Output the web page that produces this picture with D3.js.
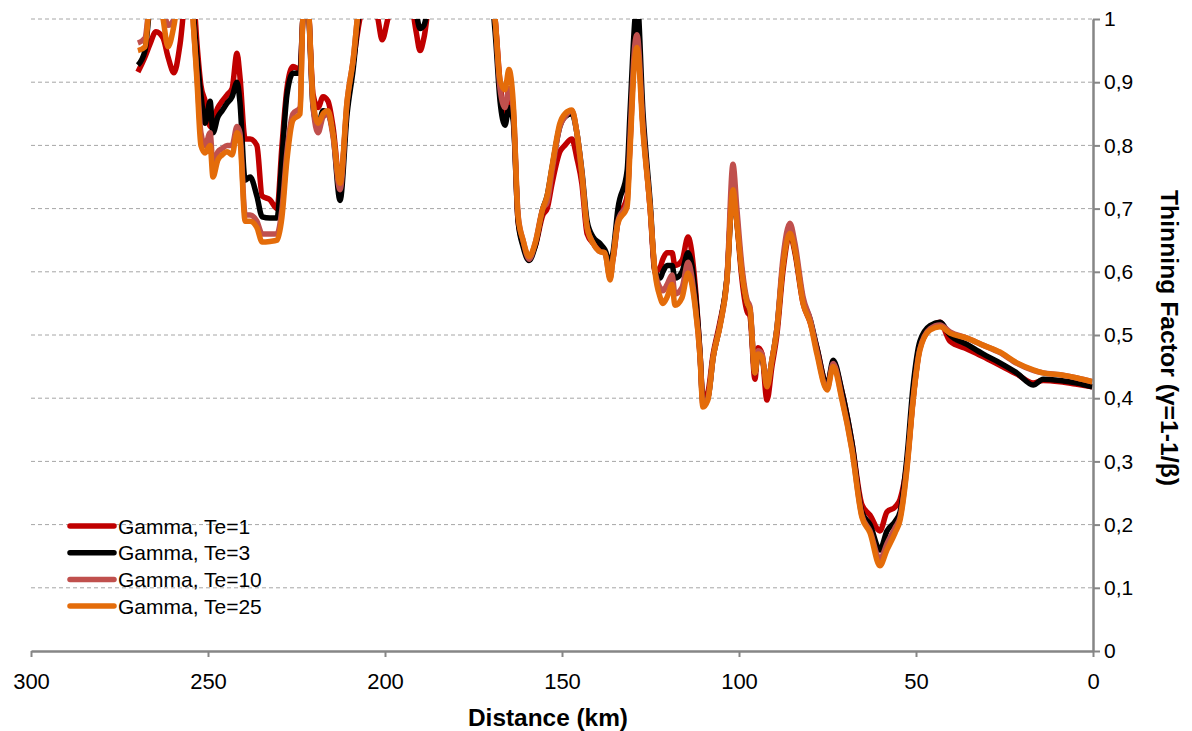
<!DOCTYPE html>
<html>
<head>
<meta charset="utf-8">
<script src="https://cdn.jsdelivr.net/npm/d3@7/dist/d3.min.js"></script>
<style>
  body { margin: 0; padding: 0; background: #fff; }
  svg { display: block; font-family: "Liberation Sans", Arial, sans-serif; }
</style>
</head>
<body>
<svg id="chart" width="1192" height="731"></svg>
<script>
// distance along profile (km)
var dist = [269.8,267.8,266.4,264.7,262.7,261.3,259.6,257.9,256.2,254.8,254.0,253.1,252.0,250.8,249.4,248.6,247.2,246.0,244.6,243.2,
  241.8,241.0,239.5,238.1,236.2,234.7,232.5,230.5,229.1,227.7,226.0,224.0,223.2,222.0,220.3,218.9,217.5,216.1,214.7,212.7,
  210.7,209.0,207.1,204.2,202.0,200.8,199.2,195.8,192.4,191.2,190.1,189.0,187.3,178.8,170.3,168.9,167.5,166.1,165.0,163.8,
  162.4,161.0,159.3,157.6,155.4,154.2,152.8,150.6,149.2,147.2,145.8,144.4,142.9,141.2,139.3,137.9,136.4,135.6,134.2,131.6,
  130.8,129.4,128.8,127.1,125.1,123.7,122.3,121.5,120.3,118.9,118.1,116.1,114.4,112.4,111.0,110.2,108.8,107.3,105.4,103.4,
  101.7,100.6,99.2,97.7,96.9,95.5,94.6,93.5,92.1,90.7,89.3,87.6,85.6,84.2,81.9,79.9,78.0,75.1,73.4,70.9,
  68.1,65.3,63.0,60.2,58.2,55.9,54.5,52.5,50.8,48.9,46.0,43.2,40.4,35.6,31.1,26.3,21.5,16.9,14.1,9.3,
  4.5,0.2];

var te1 = [0.916,0.94,0.96,0.98,0.97,0.94,0.915,0.96,1.04,1.05,1.03,0.96,0.895,0.87,0.83,0.84,0.86,0.87,0.88,0.89,
  0.946,0.91,0.81,0.81,0.80,0.72,0.714,0.70,0.80,0.89,0.925,0.92,1.0,1.04,0.88,0.86,0.877,0.87,0.83,0.74,
  0.86,0.93,1.0,1.04,1.0,0.967,1.0,1.06,1.02,0.98,0.95,0.97,1.03,1.08,1.05,1.0,0.90,0.85,0.88,0.85,
  0.68,0.645,0.624,0.64,0.69,0.70,0.74,0.79,0.80,0.81,0.78,0.74,0.66,0.645,0.64,0.63,0.61,0.62,0.68,0.72,
  0.80,0.96,0.975,0.83,0.70,0.60,0.607,0.62,0.63,0.63,0.61,0.618,0.655,0.58,0.47,0.40,0.41,0.47,0.52,0.59,
  0.74,0.68,0.59,0.537,0.53,0.43,0.48,0.47,0.397,0.45,0.50,0.60,0.66,0.63,0.55,0.52,0.48,0.42,0.455,0.41,
  0.33,0.232,0.215,0.19,0.22,0.228,0.24,0.30,0.40,0.48,0.51,0.52,0.49,0.478,0.466,0.452,0.438,0.424,0.428,0.426,
  0.422,0.418];

var te3 = [0.927,0.95,1.02,1.05,1.03,1.02,1.03,1.05,1.06,1.05,1.0,0.94,0.88,0.835,0.87,0.82,0.845,0.855,0.867,0.877,
  0.90,0.87,0.745,0.75,0.72,0.687,0.685,0.685,0.78,0.88,0.914,0.914,1.0,1.04,0.86,0.83,0.855,0.85,0.82,0.713,
  0.85,0.92,1.02,1.06,1.06,1.06,1.06,1.06,1.04,1.01,0.985,0.99,1.03,1.08,1.05,0.98,0.87,0.832,0.86,0.84,
  0.68,0.64,0.618,0.64,0.70,0.72,0.765,0.83,0.845,0.85,0.82,0.76,0.68,0.655,0.645,0.635,0.615,0.63,0.70,0.76,
  0.85,1.0,1.03,0.85,0.71,0.60,0.59,0.60,0.61,0.61,0.59,0.60,0.63,0.57,0.47,0.395,0.40,0.465,0.515,0.59,
  0.73,0.68,0.60,0.55,0.54,0.44,0.47,0.465,0.42,0.46,0.51,0.61,0.665,0.635,0.555,0.525,0.48,0.42,0.46,0.41,
  0.33,0.22,0.20,0.16,0.19,0.205,0.22,0.31,0.42,0.49,0.515,0.52,0.50,0.485,0.47,0.456,0.44,0.421,0.43,0.428,
  0.424,0.418];

var te10 = [0.962,0.97,1.03,1.05,1.02,0.99,1.0,1.05,1.06,1.04,0.98,0.91,0.82,0.80,0.82,0.77,0.79,0.795,0.80,0.80,
  0.83,0.82,0.69,0.69,0.68,0.66,0.66,0.66,0.70,0.79,0.85,0.86,1.0,1.04,0.86,0.82,0.845,0.85,0.815,0.73,
  0.87,0.935,1.03,1.06,1.06,1.06,1.06,1.06,1.06,1.06,1.06,1.06,1.06,1.08,1.05,1.0,0.89,0.86,0.89,0.86,
  0.69,0.65,0.62,0.645,0.70,0.71,0.76,0.83,0.845,0.855,0.82,0.756,0.67,0.645,0.632,0.63,0.59,0.62,0.68,0.71,
  0.81,0.96,0.975,0.83,0.70,0.60,0.575,0.57,0.58,0.595,0.565,0.575,0.615,0.55,0.465,0.39,0.40,0.465,0.515,0.59,
  0.77,0.70,0.61,0.555,0.545,0.44,0.475,0.47,0.42,0.46,0.51,0.62,0.677,0.645,0.56,0.525,0.475,0.415,0.455,0.40,
  0.32,0.215,0.19,0.145,0.17,0.195,0.212,0.295,0.40,0.478,0.51,0.516,0.505,0.495,0.484,0.472,0.455,0.444,0.44,0.437,
  0.432,0.426];

var te25 = [0.95,0.956,1.03,1.05,1.0,0.956,0.99,1.05,1.06,1.04,0.98,0.90,0.80,0.788,0.80,0.75,0.777,0.785,0.79,0.785,
  0.82,0.81,0.68,0.68,0.67,0.647,0.648,0.65,0.687,0.777,0.84,0.85,1.0,1.04,0.87,0.835,0.85,0.855,0.82,0.74,
  0.87,0.935,1.03,1.06,1.06,1.06,1.06,1.06,1.06,1.06,1.06,1.06,1.06,1.08,1.05,1.0,0.903,0.888,0.92,0.87,
  0.687,0.65,0.624,0.645,0.70,0.72,0.767,0.835,0.85,0.856,0.82,0.756,0.67,0.645,0.632,0.63,0.587,0.62,0.677,0.703,
  0.79,0.94,0.955,0.82,0.70,0.598,0.56,0.55,0.56,0.58,0.547,0.559,0.598,0.545,0.465,0.386,0.397,0.465,0.513,0.587,
  0.73,0.677,0.598,0.55,0.54,0.44,0.47,0.465,0.418,0.46,0.508,0.608,0.661,0.634,0.55,0.52,0.47,0.413,0.45,0.397,
  0.318,0.212,0.187,0.135,0.16,0.187,0.207,0.291,0.397,0.476,0.508,0.513,0.503,0.495,0.484,0.473,0.456,0.445,0.44,0.437,
  0.432,0.426];

var seriesNames = ["Gamma, Te=1", "Gamma, Te=3", "Gamma, Te=10", "Gamma, Te=25"];
var seriesColors = ["#C00000", "#000000", "#C0504D", "#E46C0A"];
var seriesValues = [te1, te3, te10, te25];

var xTicks = [300, 250, 200, 150, 100, 50, 0];
var yTicks = [0, 0.1, 0.2, 0.3, 0.4, 0.5, 0.6, 0.7, 0.8, 0.9, 1];

var plotLeft = 31, plotRight = 1093, plotTop = 19, plotBottom = 651;

var svg = d3.select("#chart");
var x = d3.scaleLinear().domain([300, 0]).range([plotLeft, plotRight]);
var y = d3.scaleLinear().domain([0, 1]).range([plotBottom, plotTop]);

// gridlines
svg.append("g").selectAll("line")
  .data(yTicks.filter(function(d){ return d > 0; }))
  .enter().append("line")
  .attr("x1", plotLeft).attr("x2", plotRight)
  .attr("y1", function(d){ return y(d); }).attr("y2", function(d){ return y(d); })
  .attr("stroke", "#a6a6a6").attr("stroke-width", 1).attr("stroke-dasharray", "4 3");

svg.append("clipPath").attr("id", "plotclip")
  .append("rect").attr("x", plotLeft).attr("y", plotTop)
  .attr("width", plotRight - plotLeft).attr("height", plotBottom - plotTop);

var line = d3.line()
  .x(function(d){ return x(d[0]); })
  .y(function(d){ return y(d[1]); })
  .curve(d3.curveMonotoneX);

var lines = svg.append("g").attr("clip-path", "url(#plotclip)");
seriesValues.forEach(function(vals, i){
  lines.append("path")
    .datum(dist.map(function(d, j){ return [d, vals[j]]; }))
    .attr("d", line)
    .attr("fill", "none")
    .attr("stroke", seriesColors[i])
    .attr("stroke-width", 5.5)
    .attr("stroke-linejoin", "round");
});

// x axis
var xAxis = svg.append("g").attr("transform", "translate(0," + plotBottom + ")")
  .call(d3.axisBottom(x).tickValues(xTicks).tickSize(6).tickSizeOuter(0).tickPadding(16));
xAxis.select(".domain").attr("stroke", "#868686").attr("stroke-width", 2.5);
xAxis.selectAll(".tick line").attr("stroke", "#868686").attr("stroke-width", 2);
xAxis.selectAll("text").attr("font-size", 22).attr("fill", "#000")
  .attr("font-family", "Liberation Sans, Arial, sans-serif");

// y axis on right
var fmt = function(d){ return String(+d.toFixed(1)).replace(".", ","); };
var yAxis = svg.append("g").attr("transform", "translate(" + plotRight + ",0)")
  .call(d3.axisRight(y).tickValues(yTicks).tickFormat(fmt).tickSize(7).tickSizeOuter(0).tickPadding(4));
yAxis.select(".domain").attr("stroke", "#868686").attr("stroke-width", 2.5);
yAxis.selectAll(".tick line").attr("stroke", "#868686").attr("stroke-width", 2);
yAxis.selectAll("text").attr("font-size", 21).attr("fill", "#000")
  .attr("font-family", "Liberation Sans, Arial, sans-serif");

// axis titles
svg.append("text").attr("x", 548).attr("y", 726).attr("text-anchor", "middle")
  .attr("font-size", 23).attr("font-weight", "bold")
  .attr("textLength", 160).attr("lengthAdjust", "spacingAndGlyphs")
  .text("Distance (km)");
svg.append("text").attr("transform", "translate(1161,338) rotate(90)")
  .attr("text-anchor", "middle").attr("font-size", 23).attr("font-weight", "bold")
  .attr("textLength", 296).attr("lengthAdjust", "spacingAndGlyphs")
  .text("Thinning Factor (γ=1-1/β)");

// legend
var legend = svg.append("g");
seriesNames.forEach(function(name, i){
  var ly = 526 + i * 26.7;
  legend.append("line").attr("x1", 70).attr("x2", 114).attr("y1", ly).attr("y2", ly)
    .attr("stroke", seriesColors[i]).attr("stroke-width", 5.5).attr("stroke-linecap", "round");
  legend.append("text").attr("x", 118).attr("y", ly + 7.5).attr("font-size", 21).attr("fill", "#000").text(name);
});
</script>
</body>
</html>
